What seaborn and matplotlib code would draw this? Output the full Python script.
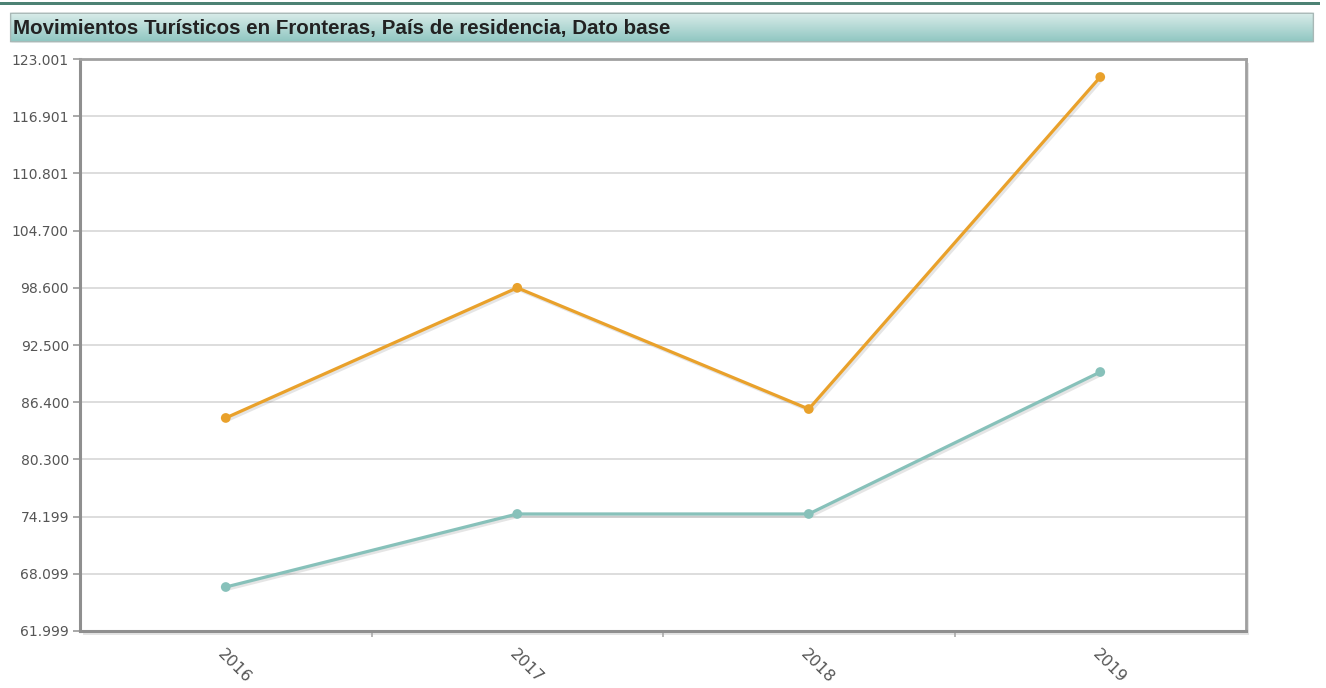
import numpy as np
import pandas as pd
import seaborn as sns
import matplotlib.pyplot as plt
import matplotlib.patheffects as pe
from matplotlib.patches import FancyBboxPatch, Rectangle

# data
years = ["2016", "2017", "2018", "2019"]
serie_naranja = [84720, 98600, 85670, 121080]
serie_verde = [66690, 74480, 74480, 89620]
y_ticks = [61999, 68099, 74199, 80300, 86400, 92500, 98600, 104700, 110801, 116901, 123001]
y_labels = ["61.999", "68.099", "74.199", "80.300", "86.400", "92.500",
            "98.600", "104.700", "110.801", "116.901", "123.001"]
title = "Movimientos Turísticos en Fronteras, País de residencia, Dato base"

df = pd.DataFrame({
    "Año": years * 2,
    "Valor": serie_naranja + serie_verde,
    "Serie": ["a"] * 4 + ["b"] * 4,
})

sns.set_theme(style="white")
plt.rcParams['font.family'] = ['DejaVu Sans']

fig = plt.figure(figsize=(13.26, 6.88), dpi=100)
W, H = 1326, 688

# dark line on top of the page
fig.add_artist(Rectangle((0, 1 - 5 / H), 1320 / W, 3 / H, transform=fig.transFigure,
                         facecolor="#4d8274", edgecolor="none"))

# title bar with gradient
tb = [8 / W, 1 - 43 / H, 1308 / W, 31 / H]
tax = fig.add_axes(tb)
tax.set_axis_off()
grad = np.linspace(0, 1, 100).reshape(-1, 1)
top = np.array([0.86, 0.93, 0.92])
bot = np.array([0.55, 0.77, 0.75])
img = top[None, None, :] * (1 - grad[:, :, None]) + bot[None, None, :] * grad[:, :, None]
im = tax.imshow(img, aspect="auto", extent=[0, 1, 0, 1], origin="upper")
clip = FancyBboxPatch((0.002, 0.04), 0.996, 0.92, boxstyle="round,pad=0,rounding_size=0.004",
                      transform=tax.transAxes, facecolor="none", edgecolor="#a8b8b6", lw=1.0)
tax.add_patch(clip)
im.set_clip_path(clip)
tax.set_xlim(0, 1)
tax.set_ylim(0, 1)
tax.text(5 / 1308, 0.48, title, transform=tax.transAxes, ha="left", va="center",
         fontsize=14.8, fontweight="bold", color="#222222", family="Liberation Sans")

# chart area
left, right, bottom, topy = 80 / W, 1246 / W, 1 - 631 / H, 1 - 59 / H
fig.add_artist(Rectangle((left + 3 / W, bottom - 4 / H), right - left, topy - bottom,
                         transform=fig.transFigure, facecolor="#e4e4e4", edgecolor="none", zorder=0))
ax = fig.add_axes([left, bottom, right - left, topy - bottom])
ax.set_facecolor("white")

sns.lineplot(data=df, x="Año", y="Valor", hue="Serie", palette=["#e9a12b", "#87c1ba"],
             marker="o", markersize=7, markeredgewidth=0, linewidth=2.3, legend=False, ax=ax,
             sort=False)
for line in ax.lines:
    line.set_path_effects([pe.SimpleLineShadow(offset=(1.5, -1.5), shadow_color="gray", alpha=0.2),
                           pe.Normal()])
    line.set_zorder(3)

ax.set_xlim(-0.5, 3.5)
ax.set_ylim(y_ticks[0], y_ticks[-1])
ax.set_yticks(y_ticks)
ax.set_yticklabels(y_labels)
ax.yaxis.grid(True, color="#d3d3d3", linewidth=1.1)
ax.set_axisbelow(True)

ax.set_xticks(range(len(years)))
ax.set_xticklabels(years, rotation=-45, ha="left", va="top", rotation_mode="anchor")
ax.set_xticks([0.5, 1.5, 2.5], minor=True)
ax.tick_params(axis="x", which="major", length=0, pad=11, labelsize=11.5, labelcolor="#555555")
ax.tick_params(axis="x", which="minor", bottom=True, length=4, width=1.2, color="#aaaaaa")
ax.tick_params(axis="y", left=True, length=5, width=1.2, color="#999999", pad=3,
               labelsize=10, labelcolor="#555555")

for s in ["top", "right"]:
    ax.spines[s].set_color("#a0a0a0")
    ax.spines[s].set_linewidth(2.0)
for s in ["left", "bottom"]:
    ax.spines[s].set_color("#8f8f8f")
    ax.spines[s].set_linewidth(2.2)

ax.set(title=None, xlabel=None, ylabel=None)

plt.savefig("out.png", dpi=100)
